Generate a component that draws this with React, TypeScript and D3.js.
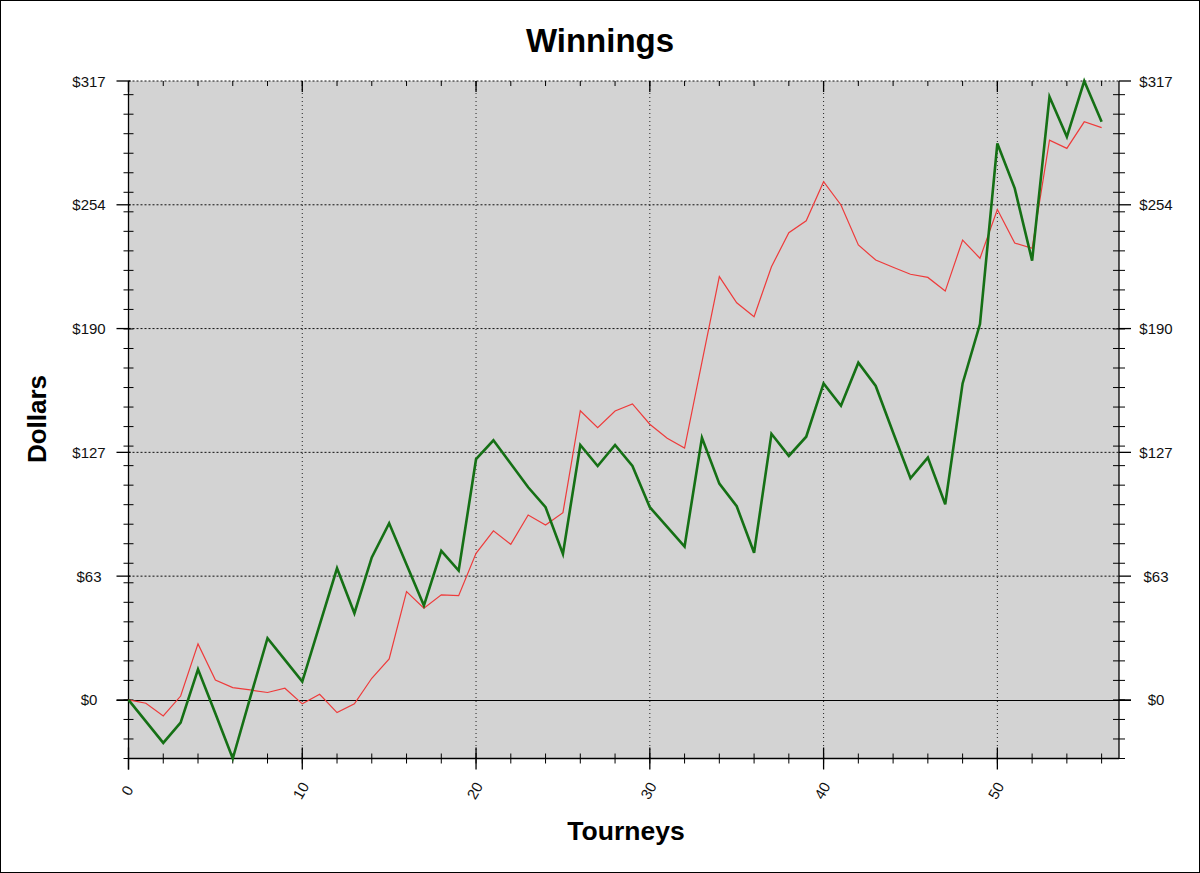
import React from "react";
import * as d3 from "d3";

const tourneys = d3.range(0, 57);
const greenSeries = [
  0, -11, -22, -11.6, 15.7, -7, -30, 1, 31.6, 20.5,
  9.4, 38.4, 67.4, 44.4, 73, 90.5, 69.4, 48.3, 76.3, 66.2,
  123.3, 133, 121, 108.9, 98.7, 74.8, 130.6, 119.8, 130.6, 119.8,
  98.7, 88.6, 78.5, 134.3, 110.8, 99.2, 75.4, 136.3, 125, 134.8,
  162.1, 150.7, 172.7, 160.8, 137, 113.5, 124.1, 100.2, 162.1, 192.5,
  285, 262, 225, 308.9, 288.4, 317, 296.1,
];
const redSeries = [
  0, -1.7, -8.2, 2, 28.7, 10.2, 6.3, 5.1, 3.8, 6,
  -2, 2.9, -6.5, -2, 11.1, 21, 55.5, 47, 53.8, 53.4,
  75.1, 86.6, 79.7, 94.7, 89.6, 95.9, 148.1, 139.4, 148, 151.6,
  141.2, 134, 129, 173, 216.8, 203.4, 196.3, 221.9, 239.3, 245.4,
  265.4, 253.5, 233, 225.3, 221.6, 218, 216.4, 209.4, 235.5, 226.2,
  251.2, 234, 231.3, 286.7, 282.5, 296.1, 293.1,
];
const xMajorTicks = [0, 10, 20, 30, 40, 50];
const xMinorTicks = d3.range(0, 57, 2);
const yMax = 317;
const yMajorTicks = d3.range(0, 6).map((k) => (k * yMax) / 5);
const yMinorTicks = d3.range(-30, 317, 10);

const W = 1200;
const H = 873;
const L = 128.5;
const R = 1119;
const T = 81;
const B = 758.5;
const FONT = "Arial, 'Liberation Sans', sans-serif";

export default function App() {
  const yMin = d3.min([...greenSeries, ...redSeries]) as number;
  const x = d3.scaleLinear().domain([0, 57]).range([L, R]);
  const y = d3.scaleLinear().domain([yMin, yMax]).range([B, T]);
  const line = d3
    .line<number>()
    .x((_, i) => x(tourneys[i]))
    .y((d) => y(d));
  const y0 = Math.round(y(0)) + 0.5;

  return (
    <svg
      width={W}
      height={H}
      style={{ position: "absolute", left: 0, top: 0, background: "#fff" }}
    >
      <rect x={0.5} y={0.5} width={W - 1} height={H - 1} fill="#fff" stroke="#000" />
      <rect x={L} y={T} width={R - L} height={B - T} fill="#d3d3d3" />

      {/* gridlines */}
      {xMajorTicks.slice(1).map((t) => (
        <line key={"gx" + t} x1={x(t)} x2={x(t)} y1={T} y2={B} stroke="#222" strokeDasharray="1,3" strokeWidth={1} />
      ))}
      {yMajorTicks.filter((t) => t !== 0).map((t) => (
        <line key={"gy" + t} x1={L} x2={R} y1={y(t)} y2={y(t)} stroke="#111" strokeDasharray="2,2" strokeWidth={1} />
      ))}

      {/* zero line */}
      <line x1={L - 12} x2={R + 12} y1={y0} y2={y0} stroke="#000" strokeWidth={1} />

      {/* axes */}
      <line x1={L} x2={L} y1={T} y2={B + 11} stroke="#000" strokeWidth={1.3} />
      <line x1={R} x2={R} y1={T} y2={B} stroke="#000" strokeWidth={1.3} />
      <line x1={L} x2={R} y1={B} y2={B} stroke="#000" strokeWidth={1.3} />

      {/* x ticks */}
      {xMinorTicks.map((t) => (
        <g key={"xm" + t}>
          <line x1={x(t)} x2={x(t)} y1={B - 5} y2={B + 5} stroke="#000" />
          <line x1={x(t)} x2={x(t)} y1={T} y2={T + 5} stroke="#000" />
        </g>
      ))}
      {xMajorTicks.map((t) => (
        <g key={"xM" + t}>
          <line x1={x(t)} x2={x(t)} y1={B - 11} y2={B + 11} stroke="#000" strokeWidth={1.3} />
          <line x1={x(t)} x2={x(t)} y1={T} y2={T + 11} stroke="#000" strokeWidth={1.3} />
          <text
            transform={`translate(${x(t) - 1.5},${B + 32}) rotate(-60)`}
            textAnchor="middle"
            dominantBaseline="central"
            fontFamily={FONT}
            fontSize={15}
            fill="#111"
          >
            {t}
          </text>
        </g>
      ))}

      {/* y ticks */}
      {yMinorTicks.map((t) => (
        <g key={"ym" + t}>
          <line x1={L - 5} x2={L + 5} y1={y(t)} y2={y(t)} stroke="#000" />
          <line x1={R - 6} x2={R + 6} y1={y(t)} y2={y(t)} stroke="#000" />
        </g>
      ))}
      {yMajorTicks.map((t) => (
        <g key={"yM" + t}>
          <line x1={L - 12} x2={L + 2} y1={y(t)} y2={y(t)} stroke="#000" strokeWidth={1.3} />
          <line x1={R} x2={R + 12} y1={y(t)} y2={y(t)} stroke="#000" strokeWidth={1.3} />
          <text x={89} y={y(t)} textAnchor="middle" dominantBaseline="central" fontFamily={FONT} fontSize={15} fill="#111">
            {"$" + Math.round(t)}
          </text>
          <text x={1156} y={y(t)} textAnchor="middle" dominantBaseline="central" fontFamily={FONT} fontSize={15} fill="#111">
            {"$" + Math.round(t)}
          </text>
        </g>
      ))}

      {/* series */}
      <path d={line(redSeries) || ""} fill="none" stroke="#ee3b3b" strokeWidth={1.2} strokeLinejoin="miter" />
      <path d={line(greenSeries) || ""} fill="none" stroke="#157015" strokeWidth={2.6} strokeLinejoin="miter" />

      {/* titles */}
      <text x={600} y={52} textAnchor="middle" fontFamily={FONT} fontWeight="bold" fontSize={33} fill="#000">
        Winnings
      </text>
      <text x={626} y={840} textAnchor="middle" fontFamily={FONT} fontWeight="bold" fontSize={26.5} fill="#000">
        Tourneys
      </text>
      <text
        transform="translate(46,419) rotate(-90)"
        textAnchor="middle"
        fontFamily={FONT}
        fontWeight="bold"
        fontSize={26}
        fill="#000"
      >
        Dollars
      </text>
    </svg>
  );
}
